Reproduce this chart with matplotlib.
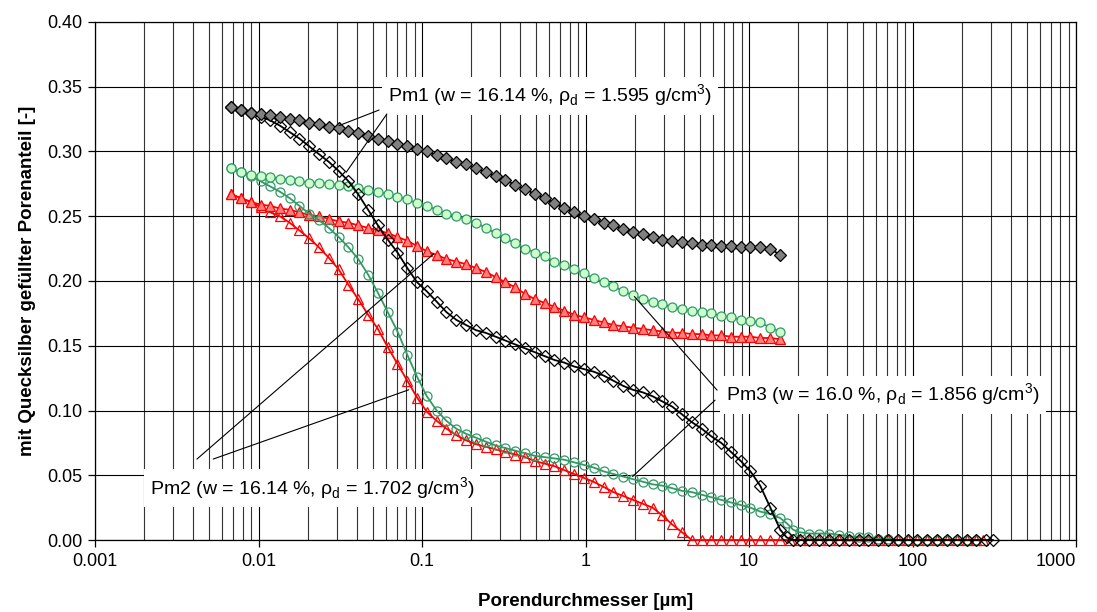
import numpy as np
import matplotlib
matplotlib.use("Agg")
import matplotlib.pyplot as plt
from matplotlib.ticker import LogLocator, NullFormatter, FixedLocator, FixedFormatter

plt.rcParams['font.family'] = ['Liberation Sans', 'DejaVu Sans']
plt.rcParams['mathtext.fontset'] = 'custom'
plt.rcParams['mathtext.rm'] = 'Liberation Sans'

# pore diameters [um] of the pressure steps
d_steps = [0.0068, 0.0078, 0.009, 0.0103, 0.0118, 0.0135, 0.0155, 0.0178, 0.0204, 0.0234,
           0.0269, 0.0309, 0.0355, 0.0407, 0.0468, 0.0537, 0.0617, 0.0708, 0.0813, 0.0933,
           0.107, 0.123, 0.141, 0.162, 0.186, 0.214, 0.245, 0.282, 0.324, 0.372,
           0.427, 0.490, 0.562, 0.646, 0.741, 0.851, 0.977, 1.12, 1.29, 1.48,
           1.70, 1.95, 2.24, 2.57, 2.95, 3.39, 3.89, 4.47, 5.13, 5.89,
           6.76, 7.76, 8.91, 10.2, 11.7, 13.5, 15.5]

# Pm1 extrusion / intrusion
pm1_ext = [0.334, 0.332, 0.330, 0.329, 0.328, 0.327, 0.325, 0.324, 0.322, 0.321,
           0.319, 0.318, 0.316, 0.314, 0.312, 0.310, 0.308, 0.306, 0.304, 0.302,
           0.300, 0.297, 0.295, 0.292, 0.290, 0.287, 0.284, 0.281, 0.278, 0.274,
           0.271, 0.267, 0.264, 0.260, 0.256, 0.253, 0.250, 0.248, 0.245, 0.243,
           0.240, 0.238, 0.236, 0.234, 0.232, 0.231, 0.230, 0.229, 0.228, 0.228,
           0.227, 0.227, 0.226, 0.226, 0.226, 0.225, 0.220]
pm1_int = [0.334, 0.332, 0.330, 0.327, 0.324, 0.320, 0.315, 0.310, 0.304, 0.298,
           0.292, 0.285, 0.277, 0.267, 0.255, 0.243, 0.232, 0.222, 0.210, 0.199,
           0.192, 0.184, 0.176, 0.170, 0.166, 0.162, 0.160, 0.157, 0.154, 0.151,
           0.148, 0.145, 0.142, 0.139, 0.137, 0.134, 0.132, 0.130, 0.127, 0.123,
           0.119, 0.116, 0.114, 0.111, 0.107, 0.103, 0.097, 0.091, 0.086, 0.080,
           0.075, 0.068, 0.061, 0.053, 0.042, 0.025, 0.008]
pm1_tail_d = [17.0, 18.6, 20.4, 23.4, 26.9, 30.9, 35.5, 40.7, 46.8, 53.7, 61.7, 70.8,
              81.3, 93.3, 107, 123, 141, 162, 186, 214, 245, 282, 310]
pm1_tail_v = [0.002, 0.0, 0.0, 0.0, 0.0, 0.0, 0.0, 0.0, 0.0, 0.0, 0.0, 0.0,
              0.0, 0.0, 0.0, 0.0, 0.0, 0.0, 0.0, 0.0, 0.0, 0.0, 0.0]

# Pm2 extrusion / intrusion
pm2_ext = [0.267, 0.264, 0.261, 0.259, 0.258, 0.256, 0.255, 0.253, 0.251, 0.250,
           0.248, 0.246, 0.245, 0.243, 0.241, 0.239, 0.237, 0.234, 0.231, 0.227,
           0.223, 0.220, 0.217, 0.215, 0.213, 0.210, 0.207, 0.203, 0.199, 0.195,
           0.190, 0.186, 0.183, 0.180, 0.177, 0.174, 0.172, 0.170, 0.168, 0.166,
           0.165, 0.164, 0.163, 0.162, 0.161, 0.160, 0.160, 0.159, 0.159, 0.158,
           0.158, 0.157, 0.157, 0.157, 0.156, 0.156, 0.155]
pm2_int = [0.267, 0.264, 0.261, 0.257, 0.253, 0.250, 0.245, 0.239, 0.233, 0.226,
           0.218, 0.209, 0.197, 0.186, 0.174, 0.163, 0.149, 0.136, 0.123, 0.110,
           0.099, 0.092, 0.086, 0.081, 0.077, 0.074, 0.072, 0.070, 0.068, 0.066,
           0.064, 0.061, 0.059, 0.057, 0.054, 0.051, 0.048, 0.045, 0.041, 0.037,
           0.034, 0.031, 0.028, 0.025, 0.019, 0.012, 0.006, 0.000, 0.000, 0.000,
           0.000, 0.000, 0.000, 0.000, 0.000, 0.000, 0.000]
pm2_tail_d = [17.8, 20.4, 23.4, 26.9, 30.9, 35.5, 40.7, 46.8, 53.7, 61.7, 70.8,
              81.3, 93.3, 107, 123, 141, 162, 186, 214, 245, 270]
pm2_tail_v = [0.0, 0.0, 0.0, 0.0, 0.0, 0.0, 0.0, 0.0, 0.0, 0.0, 0.0,
              0.0, 0.0, 0.0, 0.0, 0.0, 0.0, 0.0, 0.0, 0.0, 0.0]

# Pm3 extrusion / intrusion
pm3_ext = [0.287, 0.284, 0.282, 0.281, 0.280, 0.279, 0.278, 0.277, 0.276, 0.276,
           0.275, 0.274, 0.273, 0.272, 0.270, 0.269, 0.267, 0.265, 0.263, 0.260,
           0.258, 0.255, 0.252, 0.250, 0.248, 0.245, 0.241, 0.237, 0.233, 0.229,
           0.225, 0.222, 0.219, 0.215, 0.212, 0.209, 0.206, 0.202, 0.199, 0.196,
           0.192, 0.189, 0.186, 0.184, 0.182, 0.180, 0.178, 0.177, 0.176, 0.175,
           0.173, 0.172, 0.170, 0.169, 0.168, 0.164, 0.161]
pm3_int = [0.287, 0.284, 0.281, 0.277, 0.273, 0.269, 0.264, 0.258, 0.252, 0.247,
           0.241, 0.234, 0.226, 0.217, 0.205, 0.191, 0.176, 0.161, 0.143, 0.126,
           0.111, 0.100, 0.092, 0.086, 0.082, 0.079, 0.076, 0.073, 0.071, 0.069,
           0.067, 0.065, 0.064, 0.063, 0.062, 0.060, 0.058, 0.056, 0.053, 0.051,
           0.049, 0.047, 0.045, 0.043, 0.042, 0.040, 0.038, 0.037, 0.035, 0.033,
           0.031, 0.029, 0.027, 0.025, 0.022, 0.020, 0.017]
pm3_tail_d = [17.0, 18.6, 20.4, 23.4, 26.9, 30.9, 35.5, 40.7, 46.8, 53.7, 61.7,
              70.8, 81.3, 93.3, 107, 123, 141, 162, 186, 214, 245]
pm3_tail_v = [0.013, 0.008, 0.006, 0.005, 0.005, 0.005, 0.004, 0.003, 0.002, 0.002, 0.001,
              0.001, 0.0, 0.0, 0.0, 0.0, 0.0, 0.0, 0.0, 0.0, 0.0]

x_ticks = [0.001, 0.01, 0.1, 1, 10, 100, 1000]
x_ticklabels = ['0.001', '0.01', '0.1', '1', '10', '100', '1000']
y_ticks = [0.0, 0.05, 0.10, 0.15, 0.20, 0.25, 0.30, 0.35, 0.40]

labels = ['Pm1 (w = 16.14 %, ρ$_\\mathregular{d}$ = 1.595 g/cm$^\\mathregular{3}$)',
          'Pm2 (w = 16.14 %, ρ$_\\mathregular{d}$ = 1.702 g/cm$^\\mathregular{3}$)',
          'Pm3 (w = 16.0 %, ρ$_\\mathregular{d}$ = 1.856 g/cm$^\\mathregular{3}$)']

fig = plt.figure(figsize=(10.97, 6.12), dpi=100)
ax = fig.add_axes([0.0866, 0.1176, 0.8943, 0.8465])
ax.set_xscale('log')


def curve(d, v, tail_d, tail_v, marker, fc, ec, z):
    xs = list(d) + list(tail_d)
    ys = list(v) + list(tail_v)
    ax.plot(xs, ys, color=ec, lw=1.3, zorder=z, clip_on=False)
    ax.plot(xs, ys, ls='none', marker=marker, ms=6.5, mfc=fc, mec=ec, mew=0.9,
            zorder=z, clip_on=False)


# Pm2 (red triangles)
curve(d_steps, pm2_int, pm2_tail_d, pm2_tail_v, '^', 'none', '#ff0000', 3)
curve(d_steps, pm2_ext, [], [], '^', '#ff7f7f', '#ff0000', 3)
# Pm3 (green circles)
curve(d_steps, pm3_int, pm3_tail_d, pm3_tail_v, 'o', 'none', '#339966', 4)
curve(d_steps, pm3_ext, [], [], 'o', '#ccffcc', '#339966', 4)
# Pm1 (black diamonds)
curve(d_steps, pm1_int, pm1_tail_d, pm1_tail_v, 'D', 'none', 'black', 5)
curve(d_steps, pm1_ext, [], [], 'D', '#808080', 'black', 5)

ax.set_xlim(0.001, 1000)
ax.set_ylim(0, 0.40)
ax.xaxis.set_major_locator(FixedLocator(x_ticks))
ax.xaxis.set_major_formatter(FixedFormatter(x_ticklabels))
ax.xaxis.set_minor_locator(LogLocator(base=10, subs=np.arange(2, 10)))
ax.xaxis.set_minor_formatter(NullFormatter())
ax.set_yticks(y_ticks)
ax.set_yticklabels(['%.2f' % t for t in y_ticks])

ax.grid(True, which='major', axis='both', color='black', lw=0.8, zorder=0)
ax.grid(True, which='minor', axis='x', color='#333333', lw=0.8, zorder=0)
ax.set_axisbelow(True)
for s in ax.spines.values():
    s.set_linewidth(0.9)
ax.tick_params(axis='both', which='major', direction='out', length=5, width=0.9,
               labelsize=13, pad=4)
ax.tick_params(axis='x', which='minor', length=0)

fig.canvas.draw()
ax.get_xticklabels()[-1].set_horizontalalignment('right')

ax.set_xlabel('Porendurchmesser [µm]', fontsize=13.5, fontweight='bold', labelpad=17)
ax.set_ylabel('mit Quecksilber gefüllter Porenanteil [-]', fontsize=13.5,
              fontweight='bold', labelpad=8)

box = dict(boxstyle='square,pad=0.3', fc='white', ec='none')
line = dict(arrowstyle='-', color='black', lw=0.8, shrinkA=0, shrinkB=0)

ax.text(0.607, 0.343, labels[0], fontsize=14, ha='center', va='center', bbox=box, zorder=6)
ax.annotate('', xy=(0.0311, 0.320), xytext=(0.0546, 0.332), arrowprops=line, zorder=6)
ax.annotate('', xy=(0.0344, 0.284), xytext=(0.061, 0.329), arrowprops=line, zorder=6)

ax.text(0.0213, 0.040, labels[1], fontsize=14, ha='center', va='center', bbox=box, zorder=6)
ax.annotate('', xy=(0.118, 0.221), xytext=(0.0042, 0.0625), arrowprops=line, zorder=6)
ax.annotate('', xy=(0.083, 0.116), xytext=(0.00528, 0.0625), arrowprops=line, zorder=6)

ax.text(66, 0.112, labels[2], fontsize=14, ha='center', va='center', bbox=box, zorder=6)
ax.annotate('', xy=(1.99, 0.188), xytext=(6.38, 0.1157), arrowprops=line, zorder=6)
ax.annotate('', xy=(1.94, 0.049), xytext=(6.2, 0.108), arrowprops=line, zorder=6)

fig.savefig('out.png', dpi=100)
